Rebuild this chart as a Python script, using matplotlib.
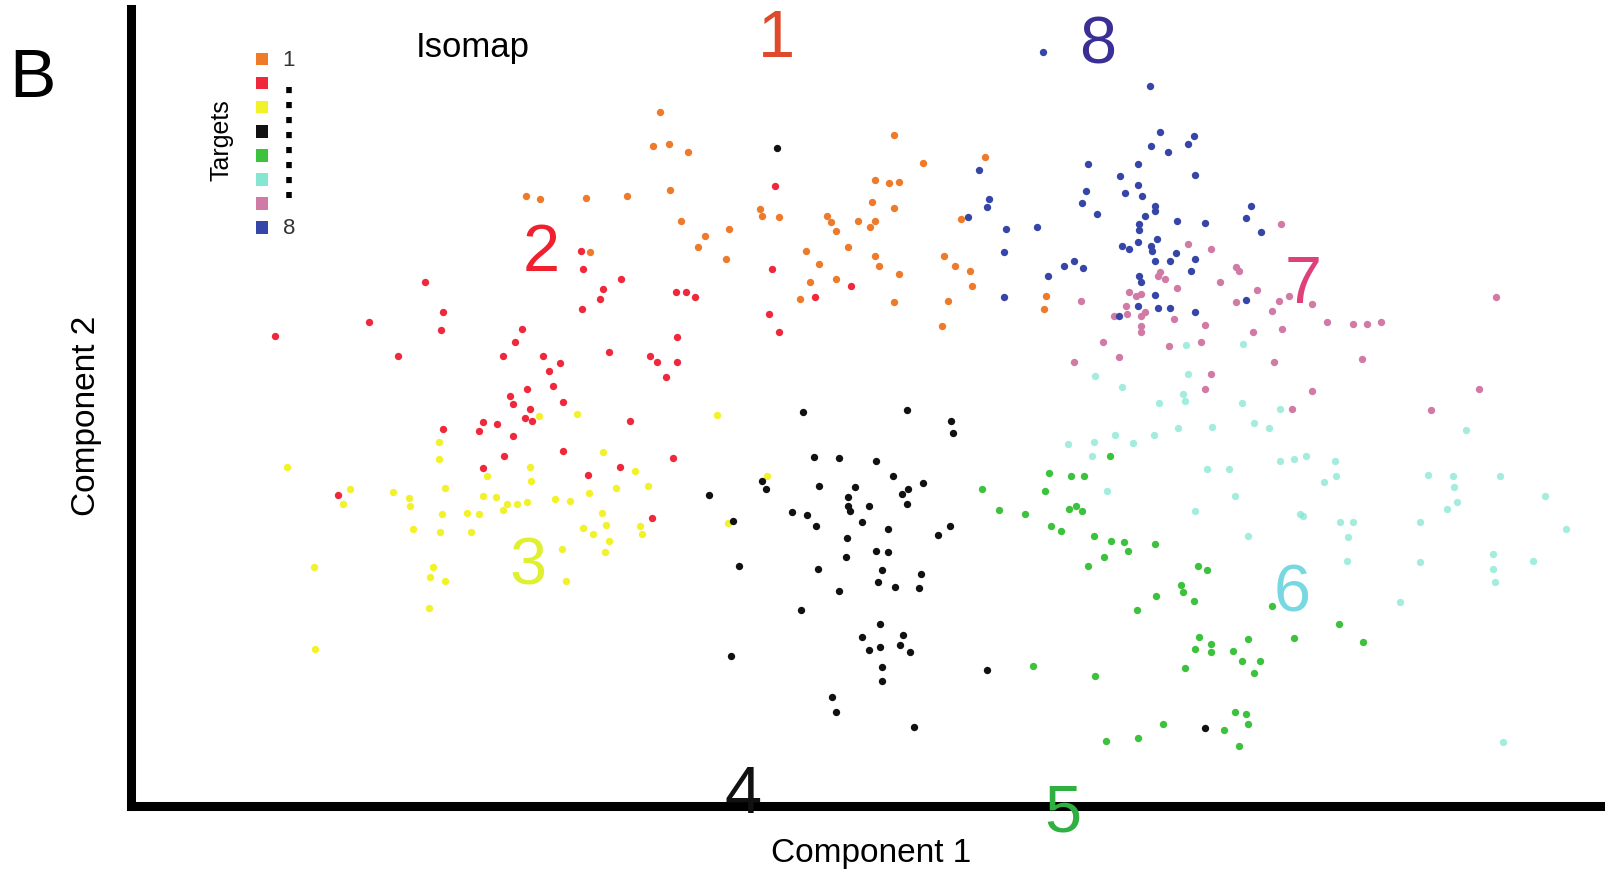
import matplotlib
matplotlib.use("Agg")
import matplotlib.pyplot as plt

plt.rcParams['font.family'] = ['Liberation Sans', 'DejaVu Sans']

# Isomap embedding, one array pair per target (component 1, component 2)
t1_x = [66.0, 65.3, 66.9, 68.8, 52.6, 54.0, 58.6, 62.7, 67.0, 89.4, 92.3, 98.5, 87.5, 88.9, 89.9, 87.2, 89.4,
        76.0, 76.2, 77.9, 68.1, 82.7, 83.1, 83.6, 85.8, 87.0, 87.5, 96.1, 70.5, 69.8, 72.9, 72.6, 80.6, 81.9,
        84.8, 87.5, 87.9, 89.9, 94.4, 95.5, 97.0, 97.2, 81.0, 83.6, 80.0, 89.4, 94.8, 94.2, 59.0, 104.6, 104.4]
t1_y = [75.7, 72.3, 72.5, 71.7, 67.3, 67.0, 67.1, 67.3, 67.9, 73.4, 70.6, 71.2, 68.9, 68.6, 68.7, 66.7, 66.1,
        66.0, 65.3, 65.2, 64.8, 65.3, 64.7, 63.8, 64.8, 64.2, 64.8, 65.0, 63.3, 62.2, 64.0, 61.0, 61.8, 60.5,
        62.2, 61.3, 60.3, 59.5, 61.3, 60.3, 59.8, 58.3, 58.7, 59.0, 57.0, 56.7, 56.8, 54.3, 61.7, 57.3, 56.0]

t2_x = [77.5, 77.2, 85.1, 81.5, 76.9, 77.9, 58.1, 58.3, 62.1, 60.3, 60.0, 67.6, 68.6, 69.5, 58.2, 52.2, 67.7,
        42.5, 44.3, 44.1, 36.9, 27.5, 39.8, 51.5, 50.3, 54.3, 56.0, 54.9, 60.9, 65.0, 65.7, 67.7, 66.6, 52.7,
        55.3, 51.0, 51.3, 56.3, 53.0, 52.5, 53.2, 44.3, 48.3, 49.7, 47.9, 51.3, 63.0, 56.3, 50.4, 67.3, 48.3,
        62.0, 58.8, 33.8, 65.2]
t2_y = [68.3, 60.0, 58.3, 57.2, 55.5, 53.7, 61.8, 60.0, 59.0, 58.0, 57.0, 57.7, 57.7, 57.2, 56.0, 54.0, 53.2,
        58.7, 55.7, 53.9, 54.7, 53.3, 51.3, 52.7, 51.3, 51.3, 50.6, 49.8, 51.7, 51.3, 50.7, 50.7, 49.2, 48.0,
        48.3, 47.3, 46.5, 46.7, 46.0, 45.1, 44.8, 44.0, 44.7, 44.5, 43.8, 43.3, 44.8, 41.8, 41.3, 41.1, 40.1,
        40.2, 39.4, 37.4, 35.1]

t3_x = [53.9, 57.7, 71.7, 43.9, 43.9, 60.3, 28.7, 53.0, 63.5, 53.1, 48.7, 35.0, 34.3, 39.3, 40.9, 41.0, 44.5,
        48.3, 49.6, 50.7, 51.7, 50.3, 52.7, 55.5, 57.0, 58.9, 61.6, 64.8, 44.2, 46.7, 47.9, 60.2, 60.6, 58.3,
        59.3, 64.0, 64.2, 41.3, 44.0, 47.1, 60.9, 56.2, 60.5, 31.4, 43.3, 43.0, 44.5, 56.6, 42.9, 31.5, 76.7, 72.8]
t3_y = [45.3, 45.5, 45.4, 42.7, 41.0, 41.7, 40.2, 40.2, 39.8, 38.8, 39.3, 38.0, 36.5, 37.7, 37.1, 36.3, 38.1,
        37.3, 37.2, 36.5, 36.5, 35.9, 36.7, 37.0, 36.8, 37.6, 38.1, 38.3, 35.5, 35.6, 35.5, 35.6, 34.4, 34.1,
        33.5, 34.3, 33.5, 34.0, 33.7, 33.7, 32.8, 32.0, 31.7, 30.2, 30.2, 29.2, 28.8, 28.8, 26.1, 22.0, 39.3, 34.6]

t4_x = [77.7, 80.3, 90.7, 95.1, 95.3, 81.4, 83.9, 87.6, 89.3, 92.3, 76.2, 76.6, 70.9, 81.9, 85.5, 90.8, 90.2,
        84.8, 84.8, 85.0, 86.9, 90.7, 79.2, 80.7, 81.6, 86.2, 88.8, 73.3, 84.7, 95.0, 93.8, 87.6, 88.8, 84.6,
        73.9, 81.8, 88.2, 92.1, 87.8, 89.5, 91.9, 83.9, 80.1, 88.0, 86.2, 90.3, 90.0, 86.9, 88.0, 91.0, 73.1,
        88.2, 88.2, 98.7, 83.2, 83.6, 91.4, 120.5]
t4_y = [72.1, 45.7, 45.9, 44.8, 43.6, 41.2, 41.1, 40.8, 39.3, 38.6, 38.8, 38.0, 37.4, 38.3, 38.2, 38.0, 37.5,
        37.2, 36.3, 35.8, 36.3, 36.5, 35.7, 35.4, 34.3, 34.7, 34.0, 34.8, 33.1, 34.3, 33.4, 31.8, 31.7, 31.2,
        30.3, 30.0, 29.9, 29.5, 28.7, 28.2, 28.1, 27.8, 25.9, 24.5, 23.2, 23.4, 22.4, 21.9, 22.2, 21.7, 21.3,
        20.2, 18.8, 19.9, 17.2, 15.7, 14.2, 14.1]

t5_x = [111.0, 104.9, 107.1, 108.4, 98.2, 104.5, 99.9, 102.5, 106.9, 107.6, 108.2, 105.1, 106.1, 109.4, 111.1,
        112.4, 112.8, 115.5, 110.4, 108.8, 119.8, 120.7, 115.6, 118.1, 118.3, 119.4, 113.7, 127.2, 133.9, 129.4,
        136.3, 119.9, 121.1, 119.5, 121.1, 123.3, 124.8, 124.2, 126.0, 125.4, 118.5, 103.3, 109.5, 123.5, 124.6,
        124.8, 122.4, 116.3, 110.6, 113.8, 123.9]
t5_y = [41.3, 39.6, 39.3, 39.3, 38.0, 37.8, 35.9, 35.5, 36.0, 36.3, 35.8, 34.3, 33.8, 33.3, 32.8, 32.7, 31.8,
        32.5, 31.2, 30.3, 30.3, 29.9, 27.3, 28.4, 27.7, 26.8, 25.9, 26.3, 24.5, 23.1, 22.7, 23.2, 22.5, 22.0,
        21.7, 21.8, 23.0, 20.8, 20.8, 19.6, 20.1, 20.3, 19.3, 15.7, 15.5, 14.5, 13.9, 14.5, 12.8, 13.1, 12.3]

t6_x = [124.3, 118.6, 109.5, 112.2, 118.8, 118.3, 118.5, 115.9, 124.2, 128.0, 111.5, 115.4, 106.8, 109.4, 113.3,
        109.2, 117.8, 121.2, 125.4, 126.9, 146.6, 120.7, 122.9, 128.0, 129.4, 130.6, 133.5, 132.4, 133.6, 110.7,
        123.5, 119.5, 130.0, 134.0, 135.3, 134.8, 134.7, 142.0, 142.0, 142.8, 145.3, 145.4, 145.7, 144.7, 150.0,
        154.5, 156.6, 124.8, 149.3, 149.3, 149.5, 153.3, 140.0, 150.3, 130.3]
t6_y = [52.5, 52.4, 49.3, 48.2, 49.5, 47.5, 46.8, 46.6, 46.6, 46.0, 43.4, 43.4, 42.5, 42.7, 42.6, 41.3, 44.1,
        44.2, 44.6, 44.1, 43.9, 40.0, 40.0, 40.8, 41.0, 41.3, 40.8, 38.7, 39.3, 37.8, 37.3, 35.8, 35.5, 34.7,
        34.7, 33.2, 30.8, 34.7, 30.7, 39.4, 39.3, 38.2, 36.7, 36.0, 39.3, 37.3, 34.0, 33.3, 31.5, 30.0, 28.7,
        30.8, 26.7, 12.7, 35.3]

t7_x = [116.0, 116.5, 115.8, 118.8, 121.1, 128.1, 123.6, 123.9, 122.0, 117.7, 125.7, 123.6, 112.9, 113.6, 114.1,
        108.1, 112.6, 128.9, 127.9, 131.2, 127.2, 111.4, 112.7, 114.1, 114.5, 114.1, 114.1, 117.4, 120.5, 132.7,
        135.3, 136.7, 138.1, 149.6, 125.3, 128.2, 110.3, 116.9, 120.1, 107.4, 111.9, 127.4, 136.2, 121.1, 120.5,
        131.2, 147.9, 129.2, 143.1]
t7_y = [59.7, 59.0, 59.3, 62.5, 62.0, 64.5, 60.2, 59.8, 58.7, 58.1, 57.9, 56.7, 57.7, 57.3, 57.5, 56.8, 56.3,
        57.3, 56.8, 56.5, 55.8, 55.3, 55.5, 55.3, 55.7, 54.3, 53.7, 55.0, 54.4, 54.7, 54.5, 54.5, 54.7, 57.2,
        53.7, 54.0, 52.7, 52.3, 52.7, 50.7, 51.2, 50.7, 51.0, 49.5, 48.0, 47.8, 48.0, 46.0, 45.9]

t8_x = [104.3, 97.9, 98.9, 98.7, 96.8, 100.6, 103.7, 100.4, 100.4, 115.0, 116.0, 119.4, 118.8, 115.1, 116.8,
        108.8, 113.8, 119.5, 112.0, 113.8, 108.6, 112.5, 114.2, 108.2, 115.5, 115.5, 109.7, 114.5, 113.9, 113.9,
        117.7, 120.5, 125.1, 124.6, 126.1, 115.7, 115.1, 115.2, 113.8, 112.9, 112.2, 117.6, 117.0, 115.5, 119.5,
        119.1, 107.4, 106.4, 108.3, 104.8, 113.9, 114.1, 115.5, 113.8, 115.8, 117.0, 119.5, 111.9, 124.6]
t8_y = [81.7, 69.9, 67.0, 66.2, 65.2, 64.0, 64.2, 61.7, 57.2, 78.3, 73.7, 73.3, 72.5, 72.3, 71.7, 70.5, 70.5,
        69.4, 69.3, 68.4, 67.8, 67.6, 67.3, 66.6, 66.3, 65.8, 65.5, 65.3, 64.5, 63.9, 64.8, 64.6, 66.3, 65.1,
        63.7, 63.0, 62.3, 61.8, 62.7, 62.0, 62.3, 61.6, 60.8, 60.8, 61.0, 59.8, 60.8, 60.3, 60.1, 59.3, 59.3,
        58.7, 57.4, 56.3, 56.1, 56.1, 55.7, 55.3, 56.9]

targets = ["1", "2", "3", "4", "5", "6", "7", "8"]
xs = [t1_x, t2_x, t3_x, t4_x, t5_x, t6_x, t7_x, t8_x]
ys = [t1_y, t2_y, t3_y, t4_y, t5_y, t6_y, t7_y, t8_y]
colors = ['#ef7a2a', '#f0283c', '#f2f22a', '#111111', '#3cc23c', '#86e6d2', '#d07aa5', '#3546a8']
alphas = [1, 1, 1, 1, 1, 0.75, 1, 1]
label_colors = ['#de4a2a', '#f0202e', '#def030', '#111111', '#2fb040', '#78d8e2', '#e0407a', '#3a2f95']

fig = plt.figure(figsize=(16.06, 8.7), dpi=100)
ax = fig.add_axes([131 / 1606, 63 / 870, 1472 / 1606, 797 / 870])

for x, y, c, a in zip(xs, ys, colors, alphas):
    ax.scatter(x, y, s=28, c=c, alpha=a, linewidths=0, marker='o')

ax.set_xlim(13.1, 160.3)
ax.set_ylim(6.3, 86.0)
ax.set_xticks([])
ax.set_yticks([])
for side in ['top', 'right']:
    ax.spines[side].set_visible(False)
for side in ['left', 'bottom']:
    ax.spines[side].set_linewidth(6.5)
    ax.spines[side].set_capstyle('projecting')

# overlay in pixel units for the annotations
deco = fig.add_axes([0, 0, 1, 1])
deco.set_xlim(0, 1606)
deco.set_ylim(870, 0)
deco.axis('off')

# big target numbers next to each cluster (x centre, baseline)
num_x = [776, 541, 528, 743, 1063, 1292, 1303, 1098]
num_y = [57, 271, 585, 813, 832, 612, 303, 63]
for t, nx, ny, c in zip(targets, num_x, num_y, label_colors):
    deco.text(nx, ny, t, fontsize=48, color=c, ha='center', va='baseline')

deco.text(32, 97, "B", fontsize=50, ha='center', va='baseline')
deco.text(473, 57, "Isomap", fontsize=25, ha='center', va='baseline')
deco.text(871, 862, "Component 1", fontsize=24, ha='center', va='baseline')
deco.text(87, 416, "Component 2", fontsize=24, rotation=90, ha='center', va='center')

# target legend
leg_y = [60 + i * 24.1 for i in range(8)]
deco.scatter([262] * 8, leg_y, s=80, c=colors, linewidths=0, marker='s')
deco.plot([289, 289], [88, 199], color='black', lw=4, linestyle=(0, (1.1, 1.6)))
deco.text(289, 60, "1", fontsize=16, color='#333333', ha='center', va='center')
deco.text(289, 229, "8", fontsize=16, color='#333333', ha='center', va='center')
deco.text(222, 140, "Targets", fontsize=18, rotation=90, ha='center', va='center')

fig.savefig("out.png", dpi=100)
